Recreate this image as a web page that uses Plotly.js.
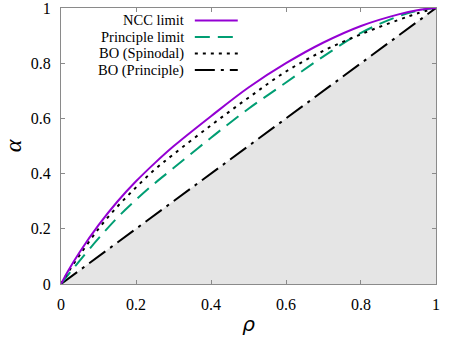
<!DOCTYPE html>
<html>
<head>
<meta charset="utf-8">
<script src="https://cdn.plot.ly/plotly-3.0.1.min.js"></script>
<style>html,body{margin:0;padding:0;background:#fff;}#chart{width:449px;height:337px;}</style>
</head>
<body>
<div id="chart"></div>
<script>
// Data
const rho = [0, 0.02, 0.05, 0.1, 0.15, 0.2, 0.25, 0.3, 0.4, 0.5, 0.6, 0.7, 0.8, 0.9, 0.95, 1];
const nccLimit = [0, 0.05, 0.116, 0.213, 0.298, 0.372, 0.438, 0.499, 0.608, 0.712, 0.80, 0.875, 0.935, 0.977, 0.992, 1];
const principleLimit = [0, 0.035, 0.085, 0.165, 0.24, 0.305, 0.365, 0.42, 0.53, 0.635, 0.73, 0.825, 0.91, 0.97, 0.99, 1];
const boSpinodal = [0, 0.045, 0.105, 0.20, 0.28, 0.35, 0.415, 0.47, 0.575, 0.675, 0.77, 0.845, 0.905, 0.957, 0.98, 1];
const boPrincipleX = [0, 1];
const boPrincipleY = [0, 1];
const shadeX = [0, 1, 1, 0];
const shadeY = [0, 1, 0, 0];
const seriesNames = ["NCC limit", "Principle limit", "BO (Spinodal)", "BO (Principle)"];
const tickVals = [0, 0.2, 0.4, 0.6, 0.8, 1];
const tickText = ["0", "0.2", "0.4", "0.6", "0.8", "1"];

const serif = '"Liberation Serif", "Times New Roman", Times, serif';
const colors = ["#9400d3", "#009e73", "#000000", "#000000"];
const dashes = ["solid", "15px,8px", "3px,5px", "20px,6px,3px,6px"];

const traces = [
  {x: shadeX, y: shadeY, type: "scatter", mode: "lines", fill: "toself", fillcolor: "#e5e5e5", line: {width: 0}, hoverinfo: "skip", showlegend: false},
  {x: boPrincipleX, y: boPrincipleY, type: "scatter", mode: "lines", name: seriesNames[3], line: {color: colors[3], width: 2, dash: dashes[3]}},
  {x: rho, y: principleLimit, type: "scatter", mode: "lines", name: seriesNames[1], line: {color: colors[1], width: 2, dash: dashes[1], shape: "spline"}},
  {x: rho, y: boSpinodal, type: "scatter", mode: "lines", name: seriesNames[2], line: {color: colors[2], width: 2, dash: dashes[2], shape: "spline"}},
  {x: rho, y: nccLimit, type: "scatter", mode: "lines", name: seriesNames[0], line: {color: colors[0], width: 2, dash: dashes[0], shape: "spline"}}
];

// Manual gnuplot-style legend (text, then sample line to the right)
const legendRowsPx = [20.5, 37, 53.5, 70];
const toPaperY = py => (284 - py) / 276;
const toPaperX = px => (px - 61) / 375.5;
const annotations = seriesNames.map((n, i) => ({
  xref: "paper", yref: "paper", x: toPaperX(185), y: toPaperY(legendRowsPx[i]),
  xanchor: "right", yanchor: "middle", text: n, showarrow: false, borderpad: 0,
  font: {family: serif, size: 14.5, color: "#000"}
}));
const shapes = seriesNames.map((n, i) => ({
  type: "line", xref: "paper", yref: "paper",
  x0: toPaperX(195), x1: toPaperX(238), y0: toPaperY(legendRowsPx[i]), y1: toPaperY(legendRowsPx[i]),
  line: {color: colors[i], width: 2, dash: dashes[i]}
}));

const axisCommon = {
  range: [-0.00005, 1.00005], tickmode: "array", tickvals: tickVals, ticktext: tickText,
  showgrid: false, zeroline: false, showline: true, linecolor: "#8a8a8a", linewidth: 1,
  mirror: "ticks", ticks: "inside", ticklen: 4, tickcolor: "#8a8a8a",
  ticklabeloverflow: "allow",
  tickfont: {family: serif, size: 16, color: "#000"}
};

const layout = {
  width: 449, height: 337,
  margin: {l: 61, r: 12.5, t: 8, b: 53},
  paper_bgcolor: "#fff", plot_bgcolor: "#fff",
  showlegend: false,
  xaxis: Object.assign({}, axisCommon, {
    ticklabelstandoff: 6,
    title: {text: "ρ", font: {family: '"DejaVu Sans", sans-serif', size: 20, color: "#000", style: "italic"}, standoff: 4}
  }),
  yaxis: Object.assign({}, axisCommon, {
    ticklabelstandoff: 6,
    title: {text: "α", font: {family: serif, size: 24, color: "#000", style: "italic"}, standoff: 8}
  }),
  annotations: annotations,
  shapes: shapes
};

Plotly.newPlot("chart", traces, layout, {staticPlot: true, displayModeBar: false});
</script>
</body>
</html>
